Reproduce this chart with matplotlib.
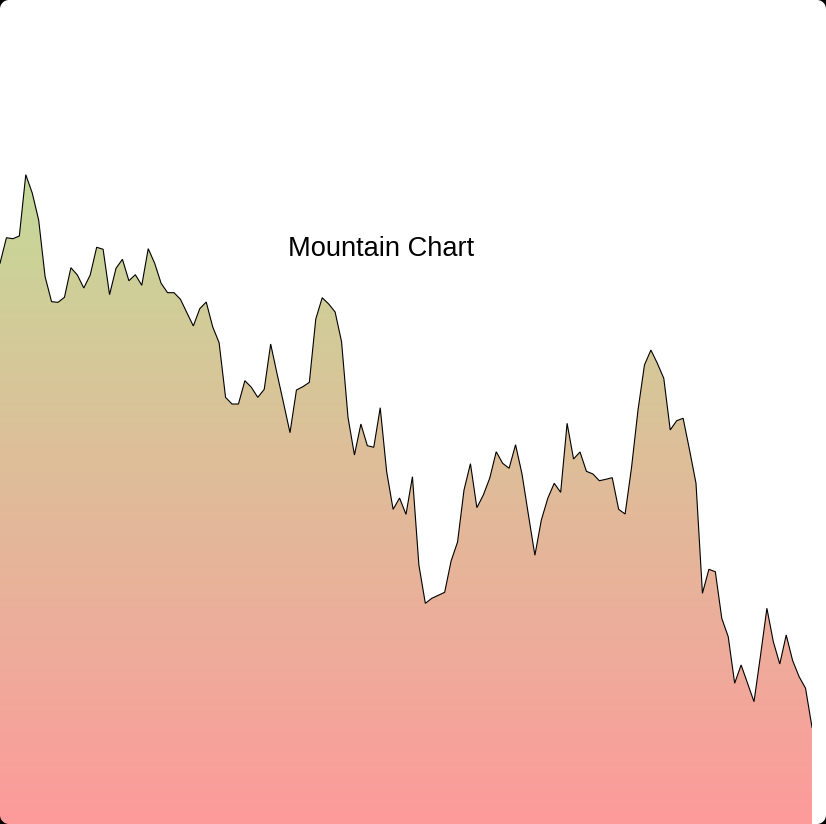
import numpy as np
import matplotlib
matplotlib.use("Agg")
import matplotlib.pyplot as plt
from matplotlib.colors import LinearSegmentedColormap
from matplotlib.patches import Polygon

# ---- data (values on a 0-100 scale) ----
pixel_heights = [
    263.3, 237.7, 238.7, 236.0, 174.7, 193.0, 220.0, 276.7, 301.7, 302.3,
    297.3, 267.7, 275.0, 288.0, 275.0, 247.3, 249.3, 294.7, 268.3, 259.3,
    280.7, 274.7, 285.3, 248.7, 263.3, 283.3, 292.7, 292.7, 299.3, 312.7,
    326.0, 308.7, 302.0, 326.7, 342.7, 397.3, 404.0, 404.0, 380.7, 387.3,
    397.3, 389.3, 344.0, 374.0, 403.0, 432.7, 390.0, 386.7, 382.3, 319.0,
    297.7, 304.0, 312.0, 341.7, 417.3, 455.0, 424.0, 445.7, 447.3, 407.7,
    471.7, 509.3, 498.0, 514.3, 476.7, 565.0, 603.3, 598.3, 595.3, 592.3,
    561.0, 542.0, 490.0, 463.7, 507.7, 495.0, 478.0, 451.7, 463.3, 468.3,
    444.7, 474.0, 515.0, 555.3, 520.0, 498.3, 483.3, 492.3, 423.3, 459.0,
    452.0, 471.3, 474.0, 480.7, 479.3, 477.7, 509.3, 514.0, 467.3, 410.0,
    365.0, 350.0, 363.3, 378.3, 430.0, 420.7, 418.3, 450.0, 483.3, 593.3,
    569.3, 571.7, 618.3, 636.7, 683.3, 665.0, 683.3, 701.7, 656.0, 608.3,
    641.7, 664.0, 635.0, 660.7, 676.7, 688.3, 727.3,
]
values = [round((824.0 - p) / 8.24, 2) for p in pixel_heights]
x_index = list(range(len(values)))
title = "Mountain Chart"

top_color = "#c5da98"
bottom_color = "#fd9b9b"

W, H = 826, 824
fig = plt.figure(figsize=(W / 100, H / 100), dpi=100)
fig.patch.set_facecolor("white")

ax = fig.add_axes([0, 0, 812 / 826, 1])
ax.set_zorder(1)
ax.axis("off")
ax.patch.set_alpha(0)

xs = np.array(x_index, dtype=float)
ys = np.array(values)
vmax = ys.max()

cmap = LinearSegmentedColormap.from_list("mt", [bottom_color, top_color])
grad = np.linspace(0, 1, 512).reshape(-1, 1)
img = ax.imshow(grad, cmap=cmap, aspect="auto", origin="lower",
                extent=[0, xs[-1], 0, vmax], zorder=1, interpolation="bicubic")
poly_pts = np.column_stack([np.r_[xs, xs[-1], xs[0]], np.r_[ys, 0, 0]])
poly = Polygon(poly_pts, closed=True, facecolor="none", edgecolor="none",
               transform=ax.transData)
ax.add_patch(poly)
img.set_clip_path(poly)
ax.set_xlim(0, len(values) - 1)
ax.set_ylim(0, 100)

ax.plot(xs, ys, color="black", linewidth=0.8, zorder=3, solid_joinstyle="miter")

fig.text(381 / W, 1 - 249 / H, title, ha="center", va="center",
         fontsize=19.6, family=["Liberation Sans", "DejaVu Sans"], color="black",
         zorder=5)

# black corners outside a rounded frame (figure-fraction coordinates)
r = 9.0
theta = np.linspace(0, np.pi / 2, 20)
corners = [((W, H), (W - r, H - r), 0.0),
           ((0, H), (r, H - r), np.pi / 2),
           ((0, 0), (r, r), np.pi),
           ((W, 0), (W - r, r), 1.5 * np.pi)]
for (cx, cy), (ox, oy), a0 in corners:
    arc = np.column_stack([ox + r * np.cos(theta + a0), oy + r * np.sin(theta + a0)])
    pts = np.vstack([[cx, cy], arc])
    pts = pts / np.array([W, H])
    fig.add_artist(Polygon(pts, closed=True, facecolor="black", edgecolor="none",
                           transform=fig.transFigure, zorder=20))

fig.savefig("out.png", dpi=100, facecolor=fig.get_facecolor())
